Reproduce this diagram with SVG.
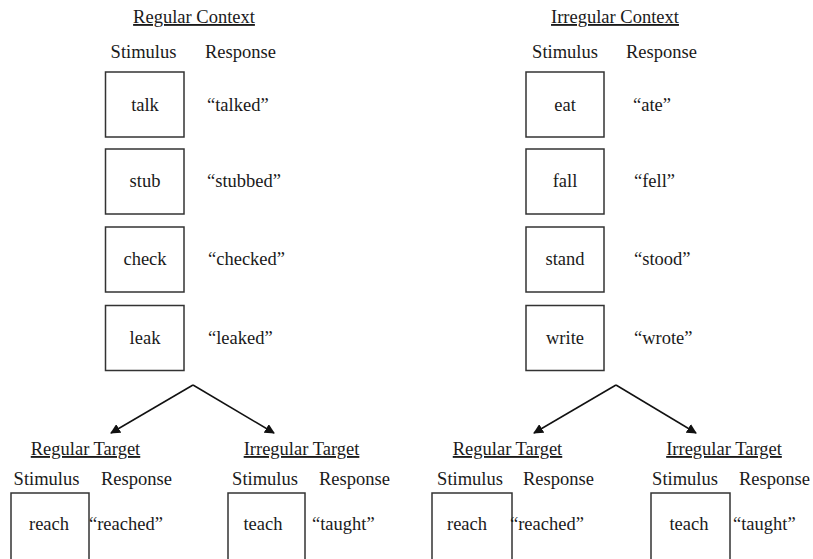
<svg xmlns="http://www.w3.org/2000/svg" width="813" height="559" viewBox="0 0 813 559">
<style>
text{font-family:"Liberation Serif","Times New Roman",serif;font-size:18.5px;fill:#1a1a1a}
.c{text-anchor:middle}
.u{text-decoration:underline}
.box{fill:#fff;stroke:#333;stroke-width:1.5}
.conn{stroke:#111;stroke-width:1.5;fill:none}
</style>
<defs>
<marker id="ah" viewBox="0 0 10 10" refX="9" refY="5" markerWidth="10" markerHeight="10" markerUnits="userSpaceOnUse" orient="auto">
<path d="M0,0 L10,5 L0,10 z" fill="#111"/>
</marker>
</defs>
<rect width="813" height="559" fill="#fff"/>

<g id="headers">
<text class="c u" x="194" y="23">Regular Context</text>
<text class="c" x="143.5" y="58">Stimulus</text>
<text class="c" x="240.5" y="58">Response</text>
<text class="c u" x="615" y="23">Irregular Context</text>
<text class="c" x="565" y="58">Stimulus</text>
<text class="c" x="661.5" y="58">Response</text>
<text class="c u" x="85.5" y="455">Regular Target</text>
<text class="c" x="46.5" y="485">Stimulus</text>
<text class="c" x="136.5" y="485">Response</text>
<text class="c u" x="301.5" y="455">Irregular Target</text>
<text class="c" x="265" y="485">Stimulus</text>
<text class="c" x="354.5" y="485">Response</text>
<text class="c u" x="507.5" y="455">Regular Target</text>
<text class="c" x="470" y="485">Stimulus</text>
<text class="c" x="558.5" y="485">Response</text>
<text class="c u" x="724" y="455">Irregular Target</text>
<text class="c" x="685" y="485">Stimulus</text>
<text class="c" x="774.5" y="485">Response</text>
</g>

<g id="node-talk"><rect class="box" x="105.5" y="72" width="78.5" height="65"/><text class="c" x="145" y="110.5">talk</text><text x="207" y="110.5">“talked”</text></g>
<g id="node-stub"><rect class="box" x="105.5" y="149" width="78.5" height="65"/><text class="c" x="145" y="187">stub</text><text x="207" y="187">“stubbed”</text></g>
<g id="node-check"><rect class="box" x="105.5" y="227" width="78.5" height="65"/><text class="c" x="145" y="265">check</text><text x="208" y="265">“checked”</text></g>
<g id="node-leak"><rect class="box" x="105.5" y="305.5" width="78.5" height="65"/><text class="c" x="145" y="343.5">leak</text><text x="208" y="343.5">“leaked”</text></g>

<g id="node-eat"><rect class="box" x="526" y="72" width="78" height="65"/><text class="c" x="565" y="110.5">eat</text><text x="633" y="110.5">“ate”</text></g>
<g id="node-fall"><rect class="box" x="526" y="149" width="78" height="65"/><text class="c" x="565" y="187">fall</text><text x="634" y="187">“fell”</text></g>
<g id="node-stand"><rect class="box" x="526" y="227" width="78" height="65"/><text class="c" x="565" y="265">stand</text><text x="634" y="265">“stood”</text></g>
<g id="node-write"><rect class="box" x="526" y="305.5" width="78" height="65"/><text class="c" x="565" y="343.5">write</text><text x="634" y="343.5">“wrote”</text></g>

<g id="node-reach1"><rect class="box" x="11" y="493" width="78" height="75"/><text class="c" x="49" y="530">reach</text><text x="89" y="530">“reached”</text></g>
<g id="node-teach1"><rect class="box" x="228" y="493" width="77" height="75"/><text class="c" x="263" y="530">teach</text><text x="312" y="530">“taught”</text></g>
<g id="node-reach2"><rect class="box" x="432" y="493" width="80" height="75"/><text class="c" x="467" y="530">reach</text><text x="510" y="530">“reached”</text></g>
<g id="node-teach2"><rect class="box" x="651" y="493" width="79" height="75"/><text class="c" x="689" y="530">teach</text><text x="733" y="530">“taught”</text></g>

<g id="connectors">
<path class="conn" d="M193,385 L111,433" marker-end="url(#ah)"/>
<path class="conn" d="M193,385 L274,433" marker-end="url(#ah)"/>
<path class="conn" d="M616,385 L534,433" marker-end="url(#ah)"/>
<path class="conn" d="M616,385 L696,433" marker-end="url(#ah)"/>
</g>
</svg>
